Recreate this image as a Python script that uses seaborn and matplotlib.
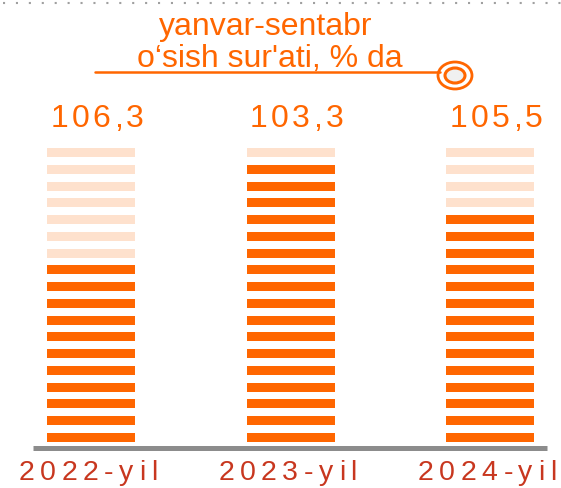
import matplotlib
matplotlib.use("Agg")
import matplotlib.pyplot as plt
import numpy as np
import pandas as pd
import seaborn as sns
from matplotlib.font_manager import FontProperties
from matplotlib.patches import Ellipse
from matplotlib.lines import Line2D
from matplotlib.transforms import IdentityTransform

# ---- data ----
years = ["2022-yil", "2023-yil", "2024-yil"]
values = [106.3, 103.3, 105.5]
value_labels = ["106,3", "103,3", "105,5"]
filled = [11, 17, 14]          # dark stripes per column
n_stripes = 18                 # stripes per column
title_lines = ["yanvar-sentabr", "o\u2018sish sur'ati, % da"]

# ---- style ----
W, H = 561, 488
DARK = "#FF6600"
LIGHT = "#FEE1CD"
YEAR_COLOR = "#C8371F"
GRID_GRAY = "#8C8C8C"
FONT = "Liberation Sans"

sns.set_theme(style="white")
plt.rcParams["font.family"] = [FONT, "DejaVu Sans"]

rows = [(i, k, k < filled[i]) for i in range(len(years)) for k in range(n_stripes)]
df = pd.DataFrame(rows, columns=["col", "stripe", "on"])

fig = plt.figure(figsize=(W / 100, H / 100), dpi=100)
fig.patch.set_facecolor("white")
ax = fig.add_axes([0, 0, 1, 1])
ax.set_axis_off()

# pixel mapping: column pitch 199.5 px, first column centre at x=91,
# stripe pitch 16.76 px, lowest stripe centre at y=437.5 from the top
COL_PX, COL0 = 199.5, 91
ROW_PX, ROW0 = 16.76, 437.5
ax.set_xlim(-COL0 / COL_PX, (W - COL0) / COL_PX)
ax.set_ylim(-(H - ROW0) / ROW_PX, ROW0 / ROW_PX)

STRIPE_H = 9 / ROW_PX
BAR_W = 88 / COL_PX
ax.bar(df["col"], STRIPE_H, bottom=df["stripe"] - STRIPE_H / 2, width=BAR_W,
       color=np.where(df["on"], DARK, LIGHT), linewidth=0)

# grey base line
ax.plot([(33 - COL0) / COL_PX, (547 - COL0) / COL_PX],
        [(ROW0 - 447.5) / ROW_PX] * 2, color=GRID_GRAY, lw=3.6,
        solid_capstyle="butt")

fig.canvas.draw()
renderer = fig.canvas.get_renderer()


def spaced_text(x_center, y_base, s, size, color, gap):
    prop = FontProperties(family=FONT, size=size)

    def w(t):
        return renderer.get_text_width_height_descent(t, prop, ismath=False)[0]

    total = w(s) + gap * (len(s) - 1)
    x0 = x_center - total / 2
    for k, ch in enumerate(s):
        left = x0 + w(s[:k + 1]) - w(ch) + k * gap
        fig.text(left, y_base, ch, transform=IdentityTransform(),
                 fontproperties=prop, color=color, ha="left", va="baseline")


for i in range(len(years)):
    xc = ax.transData.transform((i, 0))[0]
    spaced_text(xc + 6, H - 127, value_labels[i], 23, DARK, 3.4)
    spaced_text(xc - 3, H - 480, years[i], 20.5, YEAR_COLOR, 5.6)

# title block
fig.text(266, H - 35, title_lines[0], transform=IdentityTransform(),
         fontsize=23, color=DARK, ha="center", va="baseline")
fig.text(270, H - 67, title_lines[1], transform=IdentityTransform(),
         fontsize=23, color=DARK, ha="center", va="baseline")
fig.add_artist(Line2D([95, 440], [H - 72, H - 72], transform=IdentityTransform(),
                      color=DARK, lw=1.8))
fig.add_artist(Ellipse((455, H - 75.5), 34, 27, transform=IdentityTransform(),
                       fc="white", ec=DARK, lw=2.0))
fig.add_artist(Ellipse((455, H - 75.5), 20, 15, transform=IdentityTransform(),
                       fc="#F0F0F0", ec=DARK, lw=2.2))

# dotted rule along the top edge
fig.add_artist(Line2D([3, W], [H - 3, H - 3], transform=IdentityTransform(),
                      color="#A0A0A0", lw=1.5, linestyle=(0, (1, 5.2))))

fig.savefig("out.png", dpi=100, facecolor="white")
